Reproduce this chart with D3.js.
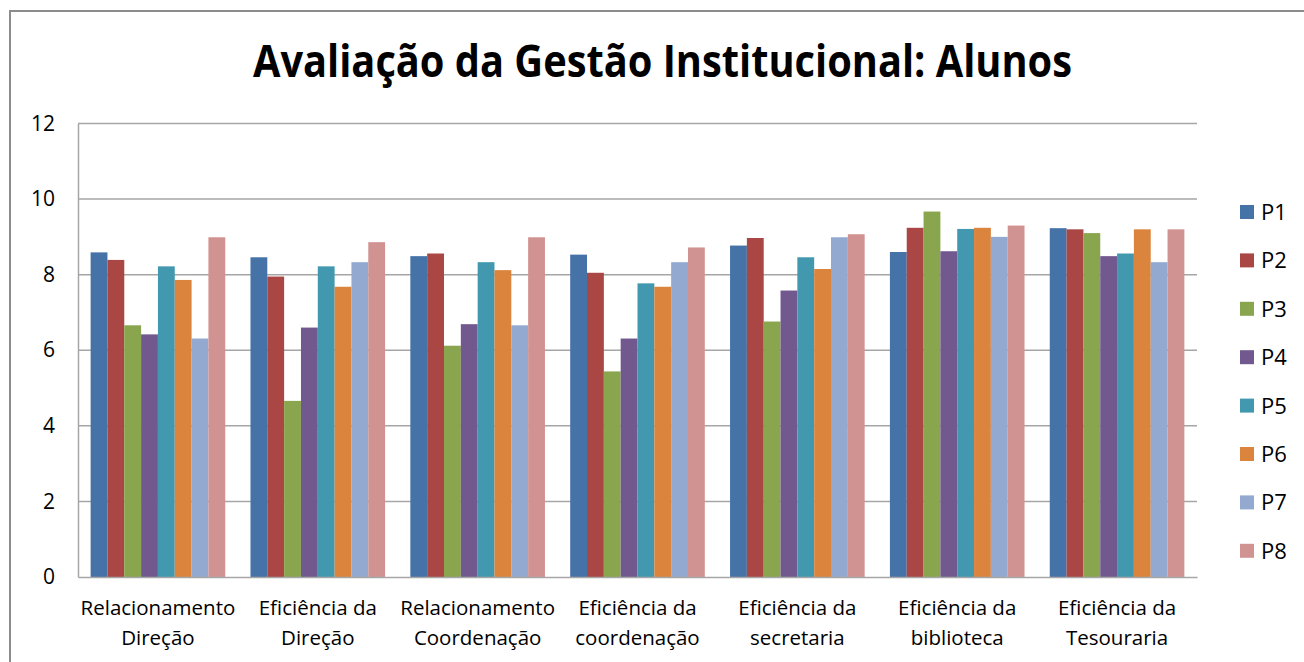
<!DOCTYPE html>
<html>
<head>
<meta charset="utf-8">
<script src="https://cdn.jsdelivr.net/npm/d3@7"></script>
<style>
  body { margin: 0; background: #fff; }
  text { font-family: "Open Sans", sans-serif; fill: #000; }
</style>
</head>
<body>
<div id="chart"></div>
<script>
const categories = [
    ["Relacionamento", "Direção"],
    ["Eficiência da", "Direção"],
    ["Relacionamento", "Coordenação"],
    ["Eficiência da", "coordenação"],
    ["Eficiência da", "secretaria"],
    ["Eficiência da", "biblioteca"],
    ["Eficiência da", "Tesouraria"]
];
const seriesNames = ["P1", "P2", "P3", "P4", "P5", "P6", "P7", "P8"];
const seriesColors = ["#4572A7", "#AA4643", "#89A54E", "#71588F", "#4198AF", "#DB843D", "#93A9CF", "#D19392"];

// one array per series, one value per category
const P1 = [8.59, 8.46, 8.49, 8.53, 8.77, 8.60, 9.23];
const P2 = [8.39, 7.95, 8.56, 8.05, 8.97, 9.24, 9.20];
const P3 = [6.66, 4.66, 6.12, 5.44, 6.76, 9.67, 9.10];
const P4 = [6.42, 6.60, 6.69, 6.31, 7.58, 8.62, 8.49];
const P5 = [8.22, 8.22, 8.33, 7.77, 8.46, 9.21, 8.56];
const P6 = [7.86, 7.68, 8.12, 7.68, 8.15, 9.24, 9.20];
const P7 = [6.31, 8.33, 6.66, 8.33, 8.99, 9.00, 8.33];
const P8 = [8.99, 8.86, 8.99, 8.72, 9.07, 9.30, 9.20];
const seriesValues = [P1, P2, P3, P4, P5, P6, P7, P8];
const yTicks = [0, 2, 4, 6, 8, 10, 12];

const svgWidth = 1304;
const svgHeight = 662;
const plot = { left: 78, right: 1197, top: 123.5, bottom: 577 };

const svg = d3.select("#chart")
    .append("svg")
    .attr("width", svgWidth)
    .attr("height", svgHeight);

// chart frame
svg.append("rect")
    .attr("x", 10)
    .attr("y", 11)
    .attr("width", 1310)
    .attr("height", 700)
    .attr("fill", "none")
    .attr("stroke", "#8c8c8c")
    .attr("stroke-width", 2);

svg.append("text")
    .attr("x", 662.5)
    .attr("y", 77)
    .attr("text-anchor", "middle")
    .attr("font-size", 44)
    .attr("font-weight", "bold")
    .attr("textLength", 819)
    .attr("lengthAdjust", "spacingAndGlyphs")
    .text("Avaliação da Gestão Institucional: Alunos");

const yScale = d3.scaleLinear()
    .domain([0, 12])
    .range([plot.bottom, plot.top]);

const x0 = d3.scaleBand()
    .domain(d3.range(categories.length))
    .range([plot.left, plot.right])
    .padding(0);

const barW = x0.bandwidth() / 9.5;
const x1 = d3.scaleBand()
    .domain(d3.range(seriesNames.length))
    .range([barW * 0.75, x0.bandwidth() - barW * 0.75]);

// gridlines
svg.append("g")
    .selectAll("line")
    .data(yTicks.filter(d => d > 0))
    .enter().append("line")
    .attr("x1", plot.left)
    .attr("x2", plot.right)
    .attr("y1", d => yScale(d))
    .attr("y2", d => yScale(d))
    .attr("stroke", "#a6a6a6")
    .attr("stroke-width", 1.5);

// y axis
const yAxis = d3.axisLeft(yScale).tickValues(yTicks).tickSize(0).tickPadding(23);
const gy = svg.append("g")
    .attr("transform", "translate(" + plot.left + ",0)")
    .call(yAxis);
gy.select(".domain").attr("stroke", "#a6a6a6").attr("stroke-width", 1.5);
gy.selectAll("text")
    .attr("font-size", 21)
    .attr("font-family", "Open Sans, sans-serif")
    .attr("fill", "#000");

// bars
const groups = svg.append("g")
    .selectAll("g")
    .data(seriesValues)
    .enter().append("g")
    .attr("fill", (d, i) => seriesColors[i]);

groups.each(function (vals, s) {
    d3.select(this).selectAll("rect")
        .data(vals)
        .enter().append("rect")
        .attr("x", (d, c) => x0(c) + x1(s))
        .attr("y", d => yScale(d))
        .attr("width", x1.bandwidth())
        .attr("height", d => yScale(0) - yScale(d));
});

// x axis
const xAxis = d3.axisBottom(x0).tickSize(0).tickFormat("");
const gx = svg.append("g")
    .attr("transform", "translate(0," + plot.bottom + ")")
    .call(xAxis);
gx.select(".domain").attr("stroke", "#a6a6a6").attr("stroke-width", 1.5);

svg.append("g")
    .selectAll("text")
    .data(categories)
    .enter().append("text")
    .attr("x", (d, i) => x0(i) + x0.bandwidth() / 2)
    .attr("y", 615)
    .attr("text-anchor", "middle")
    .attr("font-size", 20.5)
    .each(function (lines) {
        d3.select(this).selectAll("tspan")
            .data(lines)
            .enter().append("tspan")
            .attr("x", d3.select(this).attr("x"))
            .attr("dy", (d, i) => i === 0 ? 0 : 30)
            .text(d => d);
    });

// legend
const legend = svg.append("g")
    .selectAll("g")
    .data(seriesNames)
    .enter().append("g")
    .attr("transform", (d, i) => "translate(1240," + (205 + i * 48.4) + ")");

legend.append("rect")
    .attr("width", 14)
    .attr("height", 14)
    .attr("fill", (d, i) => seriesColors[i]);

legend.append("text")
    .attr("x", 21)
    .attr("y", 15)
    .attr("font-size", 22)
    .text(d => d);
</script>
</body>
</html>
